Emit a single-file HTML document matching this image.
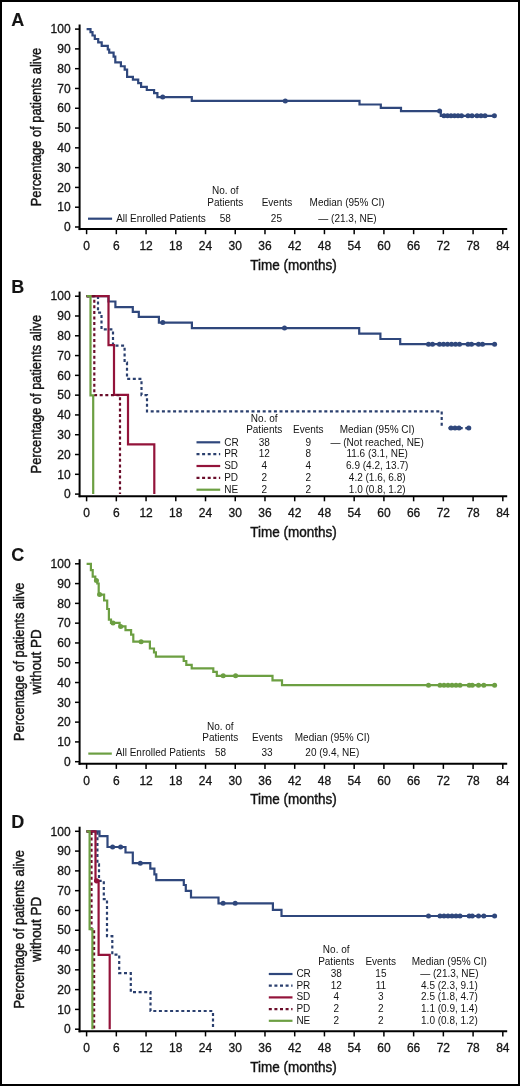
<!DOCTYPE html>
<html><head><meta charset="utf-8"><title>Kaplan-Meier curves</title>
<style>
html,body{margin:0;padding:0;background:#fff;}
body{width:520px;height:1086px;overflow:hidden;}
.frame{position:absolute;left:0;top:0;width:516px;height:1082px;border:2px solid #000;background:#fff;}
svg{position:absolute;left:0;top:0;will-change:transform;}
svg text{font-family:"Liberation Sans", sans-serif;fill:#141414;stroke:#141414;}
.t{stroke-width:0.45px;} .k{stroke-width:0.3px;} .l{stroke-width:0;} .b{stroke-width:0.1px;}
</style></head>
<body>
<div class="frame"></div>
<svg width="520" height="1086" viewBox="0 0 520 1086">
<line x1="79.6" y1="24.50" x2="79.6" y2="230.10" stroke="#000" stroke-width="2"/>
<line x1="78.6" y1="229.10" x2="507.2" y2="229.10" stroke="#000" stroke-width="2"/>
<line x1="75" y1="227.00" x2="79.6" y2="227.00" stroke="#000" stroke-width="1.5"/>
<text class="k" x="70.60" y="231.20" font-size="12" text-anchor="end" >0</text>
<line x1="75" y1="207.21" x2="79.6" y2="207.21" stroke="#000" stroke-width="1.5"/>
<text class="k" x="70.60" y="211.41" font-size="12" text-anchor="end" >10</text>
<line x1="75" y1="187.42" x2="79.6" y2="187.42" stroke="#000" stroke-width="1.5"/>
<text class="k" x="70.60" y="191.62" font-size="12" text-anchor="end" >20</text>
<line x1="75" y1="167.63" x2="79.6" y2="167.63" stroke="#000" stroke-width="1.5"/>
<text class="k" x="70.60" y="171.83" font-size="12" text-anchor="end" >30</text>
<line x1="75" y1="147.84" x2="79.6" y2="147.84" stroke="#000" stroke-width="1.5"/>
<text class="k" x="70.60" y="152.04" font-size="12" text-anchor="end" >40</text>
<line x1="75" y1="128.05" x2="79.6" y2="128.05" stroke="#000" stroke-width="1.5"/>
<text class="k" x="70.60" y="132.25" font-size="12" text-anchor="end" >50</text>
<line x1="75" y1="108.26" x2="79.6" y2="108.26" stroke="#000" stroke-width="1.5"/>
<text class="k" x="70.60" y="112.46" font-size="12" text-anchor="end" >60</text>
<line x1="75" y1="88.47" x2="79.6" y2="88.47" stroke="#000" stroke-width="1.5"/>
<text class="k" x="70.60" y="92.67" font-size="12" text-anchor="end" >70</text>
<line x1="75" y1="68.68" x2="79.6" y2="68.68" stroke="#000" stroke-width="1.5"/>
<text class="k" x="70.60" y="72.88" font-size="12" text-anchor="end" >80</text>
<line x1="75" y1="48.89" x2="79.6" y2="48.89" stroke="#000" stroke-width="1.5"/>
<text class="k" x="70.60" y="53.09" font-size="12" text-anchor="end" >90</text>
<line x1="75" y1="29.10" x2="79.6" y2="29.10" stroke="#000" stroke-width="1.5"/>
<text class="k" x="70.60" y="33.30" font-size="12" text-anchor="end" >100</text>
<line x1="86.60" y1="229.10" x2="86.60" y2="234.20" stroke="#000" stroke-width="1.5"/>
<text class="k" x="86.60" y="249.80" font-size="12" text-anchor="middle" >0</text>
<line x1="116.33" y1="229.10" x2="116.33" y2="234.20" stroke="#000" stroke-width="1.5"/>
<text class="k" x="116.33" y="249.80" font-size="12" text-anchor="middle" >6</text>
<line x1="146.06" y1="229.10" x2="146.06" y2="234.20" stroke="#000" stroke-width="1.5"/>
<text class="k" x="146.06" y="249.80" font-size="12" text-anchor="middle" >12</text>
<line x1="175.79" y1="229.10" x2="175.79" y2="234.20" stroke="#000" stroke-width="1.5"/>
<text class="k" x="175.79" y="249.80" font-size="12" text-anchor="middle" >18</text>
<line x1="205.52" y1="229.10" x2="205.52" y2="234.20" stroke="#000" stroke-width="1.5"/>
<text class="k" x="205.52" y="249.80" font-size="12" text-anchor="middle" >24</text>
<line x1="235.25" y1="229.10" x2="235.25" y2="234.20" stroke="#000" stroke-width="1.5"/>
<text class="k" x="235.25" y="249.80" font-size="12" text-anchor="middle" >30</text>
<line x1="264.98" y1="229.10" x2="264.98" y2="234.20" stroke="#000" stroke-width="1.5"/>
<text class="k" x="264.98" y="249.80" font-size="12" text-anchor="middle" >36</text>
<line x1="294.71" y1="229.10" x2="294.71" y2="234.20" stroke="#000" stroke-width="1.5"/>
<text class="k" x="294.71" y="249.80" font-size="12" text-anchor="middle" >42</text>
<line x1="324.44" y1="229.10" x2="324.44" y2="234.20" stroke="#000" stroke-width="1.5"/>
<text class="k" x="324.44" y="249.80" font-size="12" text-anchor="middle" >48</text>
<line x1="354.17" y1="229.10" x2="354.17" y2="234.20" stroke="#000" stroke-width="1.5"/>
<text class="k" x="354.17" y="249.80" font-size="12" text-anchor="middle" >54</text>
<line x1="383.90" y1="229.10" x2="383.90" y2="234.20" stroke="#000" stroke-width="1.5"/>
<text class="k" x="383.90" y="249.80" font-size="12" text-anchor="middle" >60</text>
<line x1="413.63" y1="229.10" x2="413.63" y2="234.20" stroke="#000" stroke-width="1.5"/>
<text class="k" x="413.63" y="249.80" font-size="12" text-anchor="middle" >66</text>
<line x1="443.36" y1="229.10" x2="443.36" y2="234.20" stroke="#000" stroke-width="1.5"/>
<text class="k" x="443.36" y="249.80" font-size="12" text-anchor="middle" >72</text>
<line x1="473.09" y1="229.10" x2="473.09" y2="234.20" stroke="#000" stroke-width="1.5"/>
<text class="k" x="473.09" y="249.80" font-size="12" text-anchor="middle" >78</text>
<line x1="502.82" y1="229.10" x2="502.82" y2="234.20" stroke="#000" stroke-width="1.5"/>
<text class="k" x="502.82" y="249.80" font-size="12" text-anchor="middle" >84</text>
<text class="t" x="293.50" y="269.60" font-size="15" text-anchor="middle" textLength="86.5" lengthAdjust="spacingAndGlyphs" >Time (months)</text>
<text class="b" x="11.20" y="26.20" font-size="18" text-anchor="start" font-weight="bold" >A</text>
<text class="t" transform="translate(41.1,127.05) rotate(-90)" font-size="15" text-anchor="middle" textLength="158.5" lengthAdjust="spacingAndGlyphs">Percentage of patients alive</text>
<path d="M86.6,29.1 H90.5 V32.1 H92.5 V35.5 H94.8 V39 H98.2 V42.3 H101.7 V45.8 H107.8 V49.5 H109.2 V52.7 H113.6 V56.7 H115.3 V62.4 H120.9 V66.25 H124.7 V69.6 H127.1 V76.8 H132.9 V79.7 H138.2 V83.1 H141.1 V86.9 H146.8 V90 H154.1 V93.2 H157.4 V97.1 H191.8 V100.9 H359.5 V104.5 H380.8 V107.9 H401 V111.2 H440.8 V115.8 H494.4" fill="none" stroke="#2f477c" stroke-width="2.2"/>
<circle cx="162.7" cy="97.1" r="2.5" fill="#2f477c"/>
<circle cx="285.3" cy="100.9" r="2.5" fill="#2f477c"/>
<circle cx="439.6" cy="111.0" r="2.5" fill="#2f477c"/>
<circle cx="444" cy="115.8" r="2.5" fill="#2f477c"/>
<circle cx="447.5" cy="115.8" r="2.5" fill="#2f477c"/>
<circle cx="451" cy="115.8" r="2.5" fill="#2f477c"/>
<circle cx="454.5" cy="115.8" r="2.5" fill="#2f477c"/>
<circle cx="458" cy="115.8" r="2.5" fill="#2f477c"/>
<circle cx="461.5" cy="115.8" r="2.5" fill="#2f477c"/>
<circle cx="468" cy="115.8" r="2.5" fill="#2f477c"/>
<circle cx="472" cy="115.8" r="2.5" fill="#2f477c"/>
<circle cx="477" cy="115.8" r="2.5" fill="#2f477c"/>
<circle cx="481" cy="115.8" r="2.5" fill="#2f477c"/>
<circle cx="485" cy="115.8" r="2.5" fill="#2f477c"/>
<circle cx="494.4" cy="115.8" r="2.5" fill="#2f477c"/>
<text class="l" x="225.30" y="194.30" font-size="10" text-anchor="middle" >No. of</text>
<text class="l" x="225.30" y="206.10" font-size="10" text-anchor="middle" >Patients</text>
<text class="l" x="277.00" y="206.10" font-size="10" text-anchor="middle" >Events</text>
<text class="l" x="347.10" y="206.10" font-size="10" text-anchor="middle" >Median (95% CI)</text>
<line x1="88.0" y1="218.7" x2="112.1" y2="218.7" stroke="#2f477c" stroke-width="2.2"/>
<text class="l" x="116.20" y="221.80" font-size="10" text-anchor="start" >All Enrolled Patients</text>
<text class="l" x="225.30" y="221.80" font-size="10" text-anchor="middle" >58</text>
<text class="l" x="276.40" y="221.80" font-size="10" text-anchor="middle" >25</text>
<text class="l" x="347.50" y="221.80" font-size="10" text-anchor="middle" >— (21.3, NE)</text>
<line x1="79.6" y1="291.60" x2="79.6" y2="497.20" stroke="#000" stroke-width="2"/>
<line x1="78.6" y1="496.20" x2="507.2" y2="496.20" stroke="#000" stroke-width="2"/>
<line x1="75" y1="494.10" x2="79.6" y2="494.10" stroke="#000" stroke-width="1.5"/>
<text class="k" x="70.60" y="498.30" font-size="12" text-anchor="end" >0</text>
<line x1="75" y1="474.31" x2="79.6" y2="474.31" stroke="#000" stroke-width="1.5"/>
<text class="k" x="70.60" y="478.51" font-size="12" text-anchor="end" >10</text>
<line x1="75" y1="454.52" x2="79.6" y2="454.52" stroke="#000" stroke-width="1.5"/>
<text class="k" x="70.60" y="458.72" font-size="12" text-anchor="end" >20</text>
<line x1="75" y1="434.73" x2="79.6" y2="434.73" stroke="#000" stroke-width="1.5"/>
<text class="k" x="70.60" y="438.93" font-size="12" text-anchor="end" >30</text>
<line x1="75" y1="414.94" x2="79.6" y2="414.94" stroke="#000" stroke-width="1.5"/>
<text class="k" x="70.60" y="419.14" font-size="12" text-anchor="end" >40</text>
<line x1="75" y1="395.15" x2="79.6" y2="395.15" stroke="#000" stroke-width="1.5"/>
<text class="k" x="70.60" y="399.35" font-size="12" text-anchor="end" >50</text>
<line x1="75" y1="375.36" x2="79.6" y2="375.36" stroke="#000" stroke-width="1.5"/>
<text class="k" x="70.60" y="379.56" font-size="12" text-anchor="end" >60</text>
<line x1="75" y1="355.57" x2="79.6" y2="355.57" stroke="#000" stroke-width="1.5"/>
<text class="k" x="70.60" y="359.77" font-size="12" text-anchor="end" >70</text>
<line x1="75" y1="335.78" x2="79.6" y2="335.78" stroke="#000" stroke-width="1.5"/>
<text class="k" x="70.60" y="339.98" font-size="12" text-anchor="end" >80</text>
<line x1="75" y1="315.99" x2="79.6" y2="315.99" stroke="#000" stroke-width="1.5"/>
<text class="k" x="70.60" y="320.19" font-size="12" text-anchor="end" >90</text>
<line x1="75" y1="296.20" x2="79.6" y2="296.20" stroke="#000" stroke-width="1.5"/>
<text class="k" x="70.60" y="300.40" font-size="12" text-anchor="end" >100</text>
<line x1="86.60" y1="496.20" x2="86.60" y2="501.30" stroke="#000" stroke-width="1.5"/>
<text class="k" x="86.60" y="516.90" font-size="12" text-anchor="middle" >0</text>
<line x1="116.33" y1="496.20" x2="116.33" y2="501.30" stroke="#000" stroke-width="1.5"/>
<text class="k" x="116.33" y="516.90" font-size="12" text-anchor="middle" >6</text>
<line x1="146.06" y1="496.20" x2="146.06" y2="501.30" stroke="#000" stroke-width="1.5"/>
<text class="k" x="146.06" y="516.90" font-size="12" text-anchor="middle" >12</text>
<line x1="175.79" y1="496.20" x2="175.79" y2="501.30" stroke="#000" stroke-width="1.5"/>
<text class="k" x="175.79" y="516.90" font-size="12" text-anchor="middle" >18</text>
<line x1="205.52" y1="496.20" x2="205.52" y2="501.30" stroke="#000" stroke-width="1.5"/>
<text class="k" x="205.52" y="516.90" font-size="12" text-anchor="middle" >24</text>
<line x1="235.25" y1="496.20" x2="235.25" y2="501.30" stroke="#000" stroke-width="1.5"/>
<text class="k" x="235.25" y="516.90" font-size="12" text-anchor="middle" >30</text>
<line x1="264.98" y1="496.20" x2="264.98" y2="501.30" stroke="#000" stroke-width="1.5"/>
<text class="k" x="264.98" y="516.90" font-size="12" text-anchor="middle" >36</text>
<line x1="294.71" y1="496.20" x2="294.71" y2="501.30" stroke="#000" stroke-width="1.5"/>
<text class="k" x="294.71" y="516.90" font-size="12" text-anchor="middle" >42</text>
<line x1="324.44" y1="496.20" x2="324.44" y2="501.30" stroke="#000" stroke-width="1.5"/>
<text class="k" x="324.44" y="516.90" font-size="12" text-anchor="middle" >48</text>
<line x1="354.17" y1="496.20" x2="354.17" y2="501.30" stroke="#000" stroke-width="1.5"/>
<text class="k" x="354.17" y="516.90" font-size="12" text-anchor="middle" >54</text>
<line x1="383.90" y1="496.20" x2="383.90" y2="501.30" stroke="#000" stroke-width="1.5"/>
<text class="k" x="383.90" y="516.90" font-size="12" text-anchor="middle" >60</text>
<line x1="413.63" y1="496.20" x2="413.63" y2="501.30" stroke="#000" stroke-width="1.5"/>
<text class="k" x="413.63" y="516.90" font-size="12" text-anchor="middle" >66</text>
<line x1="443.36" y1="496.20" x2="443.36" y2="501.30" stroke="#000" stroke-width="1.5"/>
<text class="k" x="443.36" y="516.90" font-size="12" text-anchor="middle" >72</text>
<line x1="473.09" y1="496.20" x2="473.09" y2="501.30" stroke="#000" stroke-width="1.5"/>
<text class="k" x="473.09" y="516.90" font-size="12" text-anchor="middle" >78</text>
<line x1="502.82" y1="496.20" x2="502.82" y2="501.30" stroke="#000" stroke-width="1.5"/>
<text class="k" x="502.82" y="516.90" font-size="12" text-anchor="middle" >84</text>
<text class="t" x="293.50" y="536.70" font-size="15" text-anchor="middle" textLength="86.5" lengthAdjust="spacingAndGlyphs" >Time (months)</text>
<text class="b" x="11.20" y="293.20" font-size="18" text-anchor="start" font-weight="bold" >B</text>
<text class="t" transform="translate(41.1,394.15) rotate(-90)" font-size="15" text-anchor="middle" textLength="158.5" lengthAdjust="spacingAndGlyphs">Percentage of patients alive</text>
<path d="M86.6,296.2 H108.5 V301.5 H115.4 V307.1 H132.8 V311.8 H138.8 V316.8 H158.9 V322.6 H191.9 V328.1 H359.2 V333.7 H380.4 V339 H400.2 V344.2 H494.6" fill="none" stroke="#2f477c" stroke-width="2.2"/>
<circle cx="162.8" cy="322.6" r="2.5" fill="#2f477c"/>
<circle cx="284.5" cy="328.1" r="2.5" fill="#2f477c"/>
<circle cx="428.5" cy="344.2" r="2.5" fill="#2f477c"/>
<circle cx="432.5" cy="344.2" r="2.5" fill="#2f477c"/>
<circle cx="439.5" cy="344.2" r="2.5" fill="#2f477c"/>
<circle cx="443.5" cy="344.2" r="2.5" fill="#2f477c"/>
<circle cx="447.5" cy="344.2" r="2.5" fill="#2f477c"/>
<circle cx="451.5" cy="344.2" r="2.5" fill="#2f477c"/>
<circle cx="455.5" cy="344.2" r="2.5" fill="#2f477c"/>
<circle cx="459.5" cy="344.2" r="2.5" fill="#2f477c"/>
<circle cx="468" cy="344.2" r="2.5" fill="#2f477c"/>
<circle cx="471.5" cy="344.2" r="2.5" fill="#2f477c"/>
<circle cx="478.5" cy="344.2" r="2.5" fill="#2f477c"/>
<circle cx="482.5" cy="344.2" r="2.5" fill="#2f477c"/>
<circle cx="494.6" cy="344.2" r="2.5" fill="#2f477c"/>
<path d="M86.6,296.2 H98 V312.7 H101.5 V329.4 H113 V345.7 H124.6 V362.5 H127 V378.8 H141.5 V395.1 H147 V411.3 H441.7 V428.1" fill="none" stroke="#2a3f6e" stroke-width="2.2" stroke-dasharray="3 2.6"/>
<path d="M448.5,428.1 H468.8" fill="none" stroke="#2a3f6e" stroke-width="2.2" stroke-dasharray="3 2.6"/>
<circle cx="451" cy="428.1" r="2.5" fill="#2f477c"/>
<circle cx="455" cy="428.1" r="2.5" fill="#2f477c"/>
<circle cx="459" cy="428.1" r="2.5" fill="#2f477c"/>
<circle cx="468.8" cy="428.1" r="2.5" fill="#2f477c"/>
<path d="M86.6,296.2 H108.5 V345.2 H114 V394.8 H128 V444.4 H154.3 V494.1" fill="none" stroke="#93133a" stroke-width="2.2"/>
<path d="M86.6,296.2 H94.3 V395.1 H120 V494.1" fill="none" stroke="#6a0d2a" stroke-width="2.2" stroke-dasharray="3 2.6"/>
<path d="M86.6,296.2 H90.5 V395.3 H93.2 V494.1" fill="none" stroke="#6c9f42" stroke-width="2.2"/>
<text class="l" x="264.20" y="421.50" font-size="10" text-anchor="middle" >No. of</text>
<text class="l" x="264.20" y="433.10" font-size="10" text-anchor="middle" >Patients</text>
<text class="l" x="308.30" y="433.10" font-size="10" text-anchor="middle" >Events</text>
<text class="l" x="377.20" y="433.10" font-size="10" text-anchor="middle" >Median (95% CI)</text>
<line x1="196.5" y1="442.3" x2="220.2" y2="442.3" stroke="#2f477c" stroke-width="2.2"/>
<text class="l" x="224.20" y="445.60" font-size="10" text-anchor="start" >CR</text>
<text class="l" x="264.20" y="445.60" font-size="10" text-anchor="middle" >38</text>
<text class="l" x="308.30" y="445.60" font-size="10" text-anchor="middle" >9</text>
<text class="l" x="377.20" y="445.60" font-size="10" text-anchor="middle" >— (Not reached, NE)</text>
<line x1="196.5" y1="454.15" x2="220.2" y2="454.15" stroke="#2a3f6e" stroke-width="2.2" stroke-dasharray="3 2.6"/>
<text class="l" x="224.20" y="457.45" font-size="10" text-anchor="start" >PR</text>
<text class="l" x="264.20" y="457.45" font-size="10" text-anchor="middle" >12</text>
<text class="l" x="308.30" y="457.45" font-size="10" text-anchor="middle" >8</text>
<text class="l" x="377.20" y="457.45" font-size="10" text-anchor="middle" >11.6 (3.1, NE)</text>
<line x1="196.5" y1="466.0" x2="220.2" y2="466.0" stroke="#93133a" stroke-width="2.2"/>
<text class="l" x="224.20" y="469.30" font-size="10" text-anchor="start" >SD</text>
<text class="l" x="264.20" y="469.30" font-size="10" text-anchor="middle" >4</text>
<text class="l" x="308.30" y="469.30" font-size="10" text-anchor="middle" >4</text>
<text class="l" x="377.20" y="469.30" font-size="10" text-anchor="middle" >6.9 (4.2, 13.7)</text>
<line x1="196.5" y1="477.85" x2="220.2" y2="477.85" stroke="#6a0d2a" stroke-width="2.2" stroke-dasharray="3 2.6"/>
<text class="l" x="224.20" y="481.15" font-size="10" text-anchor="start" >PD</text>
<text class="l" x="264.20" y="481.15" font-size="10" text-anchor="middle" >2</text>
<text class="l" x="308.30" y="481.15" font-size="10" text-anchor="middle" >2</text>
<text class="l" x="377.20" y="481.15" font-size="10" text-anchor="middle" >4.2 (1.6, 6.8)</text>
<line x1="196.5" y1="489.7" x2="220.2" y2="489.7" stroke="#6c9f42" stroke-width="2.2"/>
<text class="l" x="224.20" y="493.00" font-size="10" text-anchor="start" >NE</text>
<text class="l" x="264.20" y="493.00" font-size="10" text-anchor="middle" >2</text>
<text class="l" x="308.30" y="493.00" font-size="10" text-anchor="middle" >2</text>
<text class="l" x="377.20" y="493.00" font-size="10" text-anchor="middle" >1.0 (0.8, 1.2)</text>
<line x1="79.6" y1="559.20" x2="79.6" y2="764.80" stroke="#000" stroke-width="2"/>
<line x1="78.6" y1="763.80" x2="507.2" y2="763.80" stroke="#000" stroke-width="2"/>
<line x1="75" y1="761.70" x2="79.6" y2="761.70" stroke="#000" stroke-width="1.5"/>
<text class="k" x="70.60" y="765.90" font-size="12" text-anchor="end" >0</text>
<line x1="75" y1="741.91" x2="79.6" y2="741.91" stroke="#000" stroke-width="1.5"/>
<text class="k" x="70.60" y="746.11" font-size="12" text-anchor="end" >10</text>
<line x1="75" y1="722.12" x2="79.6" y2="722.12" stroke="#000" stroke-width="1.5"/>
<text class="k" x="70.60" y="726.32" font-size="12" text-anchor="end" >20</text>
<line x1="75" y1="702.33" x2="79.6" y2="702.33" stroke="#000" stroke-width="1.5"/>
<text class="k" x="70.60" y="706.53" font-size="12" text-anchor="end" >30</text>
<line x1="75" y1="682.54" x2="79.6" y2="682.54" stroke="#000" stroke-width="1.5"/>
<text class="k" x="70.60" y="686.74" font-size="12" text-anchor="end" >40</text>
<line x1="75" y1="662.75" x2="79.6" y2="662.75" stroke="#000" stroke-width="1.5"/>
<text class="k" x="70.60" y="666.95" font-size="12" text-anchor="end" >50</text>
<line x1="75" y1="642.96" x2="79.6" y2="642.96" stroke="#000" stroke-width="1.5"/>
<text class="k" x="70.60" y="647.16" font-size="12" text-anchor="end" >60</text>
<line x1="75" y1="623.17" x2="79.6" y2="623.17" stroke="#000" stroke-width="1.5"/>
<text class="k" x="70.60" y="627.37" font-size="12" text-anchor="end" >70</text>
<line x1="75" y1="603.38" x2="79.6" y2="603.38" stroke="#000" stroke-width="1.5"/>
<text class="k" x="70.60" y="607.58" font-size="12" text-anchor="end" >80</text>
<line x1="75" y1="583.59" x2="79.6" y2="583.59" stroke="#000" stroke-width="1.5"/>
<text class="k" x="70.60" y="587.79" font-size="12" text-anchor="end" >90</text>
<line x1="75" y1="563.80" x2="79.6" y2="563.80" stroke="#000" stroke-width="1.5"/>
<text class="k" x="70.60" y="568.00" font-size="12" text-anchor="end" >100</text>
<line x1="86.60" y1="763.80" x2="86.60" y2="768.90" stroke="#000" stroke-width="1.5"/>
<text class="k" x="86.60" y="784.50" font-size="12" text-anchor="middle" >0</text>
<line x1="116.33" y1="763.80" x2="116.33" y2="768.90" stroke="#000" stroke-width="1.5"/>
<text class="k" x="116.33" y="784.50" font-size="12" text-anchor="middle" >6</text>
<line x1="146.06" y1="763.80" x2="146.06" y2="768.90" stroke="#000" stroke-width="1.5"/>
<text class="k" x="146.06" y="784.50" font-size="12" text-anchor="middle" >12</text>
<line x1="175.79" y1="763.80" x2="175.79" y2="768.90" stroke="#000" stroke-width="1.5"/>
<text class="k" x="175.79" y="784.50" font-size="12" text-anchor="middle" >18</text>
<line x1="205.52" y1="763.80" x2="205.52" y2="768.90" stroke="#000" stroke-width="1.5"/>
<text class="k" x="205.52" y="784.50" font-size="12" text-anchor="middle" >24</text>
<line x1="235.25" y1="763.80" x2="235.25" y2="768.90" stroke="#000" stroke-width="1.5"/>
<text class="k" x="235.25" y="784.50" font-size="12" text-anchor="middle" >30</text>
<line x1="264.98" y1="763.80" x2="264.98" y2="768.90" stroke="#000" stroke-width="1.5"/>
<text class="k" x="264.98" y="784.50" font-size="12" text-anchor="middle" >36</text>
<line x1="294.71" y1="763.80" x2="294.71" y2="768.90" stroke="#000" stroke-width="1.5"/>
<text class="k" x="294.71" y="784.50" font-size="12" text-anchor="middle" >42</text>
<line x1="324.44" y1="763.80" x2="324.44" y2="768.90" stroke="#000" stroke-width="1.5"/>
<text class="k" x="324.44" y="784.50" font-size="12" text-anchor="middle" >48</text>
<line x1="354.17" y1="763.80" x2="354.17" y2="768.90" stroke="#000" stroke-width="1.5"/>
<text class="k" x="354.17" y="784.50" font-size="12" text-anchor="middle" >54</text>
<line x1="383.90" y1="763.80" x2="383.90" y2="768.90" stroke="#000" stroke-width="1.5"/>
<text class="k" x="383.90" y="784.50" font-size="12" text-anchor="middle" >60</text>
<line x1="413.63" y1="763.80" x2="413.63" y2="768.90" stroke="#000" stroke-width="1.5"/>
<text class="k" x="413.63" y="784.50" font-size="12" text-anchor="middle" >66</text>
<line x1="443.36" y1="763.80" x2="443.36" y2="768.90" stroke="#000" stroke-width="1.5"/>
<text class="k" x="443.36" y="784.50" font-size="12" text-anchor="middle" >72</text>
<line x1="473.09" y1="763.80" x2="473.09" y2="768.90" stroke="#000" stroke-width="1.5"/>
<text class="k" x="473.09" y="784.50" font-size="12" text-anchor="middle" >78</text>
<line x1="502.82" y1="763.80" x2="502.82" y2="768.90" stroke="#000" stroke-width="1.5"/>
<text class="k" x="502.82" y="784.50" font-size="12" text-anchor="middle" >84</text>
<text class="t" x="293.50" y="804.30" font-size="15" text-anchor="middle" textLength="86.5" lengthAdjust="spacingAndGlyphs" >Time (months)</text>
<text class="b" x="11.20" y="560.80" font-size="18" text-anchor="start" font-weight="bold" >C</text>
<text class="t" transform="translate(23.8,661.75) rotate(-90)" font-size="15" text-anchor="middle" textLength="158.5" lengthAdjust="spacingAndGlyphs">Percentage of patients alive</text>
<text class="t" transform="translate(41.1,661.75) rotate(-90)" font-size="15" text-anchor="middle" textLength="65" lengthAdjust="spacingAndGlyphs">without PD</text>
<path d="M86.6,563.8 H90.9 V570.1 H92.7 V576.7 H95.3 V580.5 H97.3 V583.5 H98.7 V594.6 H104.1 V600.5 H107.2 V609 H108.9 V619.6 H111 V622.9 H119.6 V626.4 H125.5 V630.2 H131.1 V634.6 H133.3 V641.7 H149.9 V648.5 H154 V652.3 H155.9 V656.7 H183.7 V661 H186.3 V664.8 H191.7 V668.3 H213.3 V671.8 H216.8 V675.8 H272.5 V680.4 H282 V685.2 H494.6" fill="none" stroke="#6c9f42" stroke-width="2.2"/>
<circle cx="96.4" cy="580.5" r="2.5" fill="#6c9f42"/>
<circle cx="99.6" cy="594.6" r="2.5" fill="#6c9f42"/>
<circle cx="113" cy="622.9" r="2.5" fill="#6c9f42"/>
<circle cx="120.7" cy="626.4" r="2.5" fill="#6c9f42"/>
<circle cx="141.1" cy="641.7" r="2.5" fill="#6c9f42"/>
<circle cx="223.2" cy="675.8" r="2.5" fill="#6c9f42"/>
<circle cx="235.6" cy="675.8" r="2.5" fill="#6c9f42"/>
<circle cx="428.5" cy="685.2" r="2.5" fill="#6c9f42"/>
<circle cx="440" cy="685.2" r="2.5" fill="#6c9f42"/>
<circle cx="444" cy="685.2" r="2.5" fill="#6c9f42"/>
<circle cx="448" cy="685.2" r="2.5" fill="#6c9f42"/>
<circle cx="452" cy="685.2" r="2.5" fill="#6c9f42"/>
<circle cx="456" cy="685.2" r="2.5" fill="#6c9f42"/>
<circle cx="460" cy="685.2" r="2.5" fill="#6c9f42"/>
<circle cx="469.2" cy="685.2" r="2.5" fill="#6c9f42"/>
<circle cx="472.3" cy="685.2" r="2.5" fill="#6c9f42"/>
<circle cx="478.5" cy="685.2" r="2.5" fill="#6c9f42"/>
<circle cx="483.8" cy="685.2" r="2.5" fill="#6c9f42"/>
<circle cx="494.6" cy="685.2" r="2.5" fill="#6c9f42"/>
<text class="l" x="220.30" y="729.90" font-size="10" text-anchor="middle" >No. of</text>
<text class="l" x="220.30" y="741.30" font-size="10" text-anchor="middle" >Patients</text>
<text class="l" x="267.40" y="741.30" font-size="10" text-anchor="middle" >Events</text>
<text class="l" x="332.30" y="741.30" font-size="10" text-anchor="middle" >Median (95% CI)</text>
<line x1="88.3" y1="753.6" x2="111.8" y2="753.6" stroke="#6c9f42" stroke-width="2.2"/>
<text class="l" x="115.80" y="756.20" font-size="10" text-anchor="start" >All Enrolled Patients</text>
<text class="l" x="220.50" y="756.20" font-size="10" text-anchor="middle" >58</text>
<text class="l" x="267.00" y="756.20" font-size="10" text-anchor="middle" >33</text>
<text class="l" x="332.30" y="756.20" font-size="10" text-anchor="middle" >20 (9.4, NE)</text>
<line x1="79.6" y1="826.70" x2="79.6" y2="1032.30" stroke="#000" stroke-width="2"/>
<line x1="78.6" y1="1031.30" x2="507.2" y2="1031.30" stroke="#000" stroke-width="2"/>
<line x1="75" y1="1029.20" x2="79.6" y2="1029.20" stroke="#000" stroke-width="1.5"/>
<text class="k" x="70.60" y="1033.40" font-size="12" text-anchor="end" >0</text>
<line x1="75" y1="1009.41" x2="79.6" y2="1009.41" stroke="#000" stroke-width="1.5"/>
<text class="k" x="70.60" y="1013.61" font-size="12" text-anchor="end" >10</text>
<line x1="75" y1="989.62" x2="79.6" y2="989.62" stroke="#000" stroke-width="1.5"/>
<text class="k" x="70.60" y="993.82" font-size="12" text-anchor="end" >20</text>
<line x1="75" y1="969.83" x2="79.6" y2="969.83" stroke="#000" stroke-width="1.5"/>
<text class="k" x="70.60" y="974.03" font-size="12" text-anchor="end" >30</text>
<line x1="75" y1="950.04" x2="79.6" y2="950.04" stroke="#000" stroke-width="1.5"/>
<text class="k" x="70.60" y="954.24" font-size="12" text-anchor="end" >40</text>
<line x1="75" y1="930.25" x2="79.6" y2="930.25" stroke="#000" stroke-width="1.5"/>
<text class="k" x="70.60" y="934.45" font-size="12" text-anchor="end" >50</text>
<line x1="75" y1="910.46" x2="79.6" y2="910.46" stroke="#000" stroke-width="1.5"/>
<text class="k" x="70.60" y="914.66" font-size="12" text-anchor="end" >60</text>
<line x1="75" y1="890.67" x2="79.6" y2="890.67" stroke="#000" stroke-width="1.5"/>
<text class="k" x="70.60" y="894.87" font-size="12" text-anchor="end" >70</text>
<line x1="75" y1="870.88" x2="79.6" y2="870.88" stroke="#000" stroke-width="1.5"/>
<text class="k" x="70.60" y="875.08" font-size="12" text-anchor="end" >80</text>
<line x1="75" y1="851.09" x2="79.6" y2="851.09" stroke="#000" stroke-width="1.5"/>
<text class="k" x="70.60" y="855.29" font-size="12" text-anchor="end" >90</text>
<line x1="75" y1="831.30" x2="79.6" y2="831.30" stroke="#000" stroke-width="1.5"/>
<text class="k" x="70.60" y="835.50" font-size="12" text-anchor="end" >100</text>
<line x1="86.60" y1="1031.30" x2="86.60" y2="1036.40" stroke="#000" stroke-width="1.5"/>
<text class="k" x="86.60" y="1052.00" font-size="12" text-anchor="middle" >0</text>
<line x1="116.33" y1="1031.30" x2="116.33" y2="1036.40" stroke="#000" stroke-width="1.5"/>
<text class="k" x="116.33" y="1052.00" font-size="12" text-anchor="middle" >6</text>
<line x1="146.06" y1="1031.30" x2="146.06" y2="1036.40" stroke="#000" stroke-width="1.5"/>
<text class="k" x="146.06" y="1052.00" font-size="12" text-anchor="middle" >12</text>
<line x1="175.79" y1="1031.30" x2="175.79" y2="1036.40" stroke="#000" stroke-width="1.5"/>
<text class="k" x="175.79" y="1052.00" font-size="12" text-anchor="middle" >18</text>
<line x1="205.52" y1="1031.30" x2="205.52" y2="1036.40" stroke="#000" stroke-width="1.5"/>
<text class="k" x="205.52" y="1052.00" font-size="12" text-anchor="middle" >24</text>
<line x1="235.25" y1="1031.30" x2="235.25" y2="1036.40" stroke="#000" stroke-width="1.5"/>
<text class="k" x="235.25" y="1052.00" font-size="12" text-anchor="middle" >30</text>
<line x1="264.98" y1="1031.30" x2="264.98" y2="1036.40" stroke="#000" stroke-width="1.5"/>
<text class="k" x="264.98" y="1052.00" font-size="12" text-anchor="middle" >36</text>
<line x1="294.71" y1="1031.30" x2="294.71" y2="1036.40" stroke="#000" stroke-width="1.5"/>
<text class="k" x="294.71" y="1052.00" font-size="12" text-anchor="middle" >42</text>
<line x1="324.44" y1="1031.30" x2="324.44" y2="1036.40" stroke="#000" stroke-width="1.5"/>
<text class="k" x="324.44" y="1052.00" font-size="12" text-anchor="middle" >48</text>
<line x1="354.17" y1="1031.30" x2="354.17" y2="1036.40" stroke="#000" stroke-width="1.5"/>
<text class="k" x="354.17" y="1052.00" font-size="12" text-anchor="middle" >54</text>
<line x1="383.90" y1="1031.30" x2="383.90" y2="1036.40" stroke="#000" stroke-width="1.5"/>
<text class="k" x="383.90" y="1052.00" font-size="12" text-anchor="middle" >60</text>
<line x1="413.63" y1="1031.30" x2="413.63" y2="1036.40" stroke="#000" stroke-width="1.5"/>
<text class="k" x="413.63" y="1052.00" font-size="12" text-anchor="middle" >66</text>
<line x1="443.36" y1="1031.30" x2="443.36" y2="1036.40" stroke="#000" stroke-width="1.5"/>
<text class="k" x="443.36" y="1052.00" font-size="12" text-anchor="middle" >72</text>
<line x1="473.09" y1="1031.30" x2="473.09" y2="1036.40" stroke="#000" stroke-width="1.5"/>
<text class="k" x="473.09" y="1052.00" font-size="12" text-anchor="middle" >78</text>
<line x1="502.82" y1="1031.30" x2="502.82" y2="1036.40" stroke="#000" stroke-width="1.5"/>
<text class="k" x="502.82" y="1052.00" font-size="12" text-anchor="middle" >84</text>
<text class="t" x="293.50" y="1071.80" font-size="15" text-anchor="middle" textLength="86.5" lengthAdjust="spacingAndGlyphs" >Time (months)</text>
<text class="b" x="11.20" y="828.30" font-size="18" text-anchor="start" font-weight="bold" >D</text>
<text class="t" transform="translate(23.8,929.25) rotate(-90)" font-size="15" text-anchor="middle" textLength="158.5" lengthAdjust="spacingAndGlyphs">Percentage of patients alive</text>
<text class="t" transform="translate(41.1,929.25) rotate(-90)" font-size="15" text-anchor="middle" textLength="65" lengthAdjust="spacingAndGlyphs">without PD</text>
<path d="M86.6,831.3 H99.5 V836.2 H107.5 V847 H125.5 V852.5 H132.8 V863.2 H150.3 V868.7 H154.4 V874.4 H156.3 V880.2 H183.8 V885 H185.8 V890.8 H191 V897.5 H218.5 V903.3 H272.9 V909.8 H281.5 V916 H494.6" fill="none" stroke="#2f477c" stroke-width="2.2"/>
<circle cx="112.6" cy="847" r="2.5" fill="#2f477c"/>
<circle cx="120.6" cy="847" r="2.5" fill="#2f477c"/>
<circle cx="140.3" cy="863.2" r="2.5" fill="#2f477c"/>
<circle cx="223.1" cy="903.3" r="2.5" fill="#2f477c"/>
<circle cx="235.2" cy="903.3" r="2.5" fill="#2f477c"/>
<circle cx="428.5" cy="916" r="2.5" fill="#2f477c"/>
<circle cx="440" cy="916" r="2.5" fill="#2f477c"/>
<circle cx="444" cy="916" r="2.5" fill="#2f477c"/>
<circle cx="448" cy="916" r="2.5" fill="#2f477c"/>
<circle cx="452" cy="916" r="2.5" fill="#2f477c"/>
<circle cx="456" cy="916" r="2.5" fill="#2f477c"/>
<circle cx="460" cy="916" r="2.5" fill="#2f477c"/>
<circle cx="469.2" cy="916" r="2.5" fill="#2f477c"/>
<circle cx="472.3" cy="916" r="2.5" fill="#2f477c"/>
<circle cx="478.5" cy="916" r="2.5" fill="#2f477c"/>
<circle cx="483.8" cy="916" r="2.5" fill="#2f477c"/>
<circle cx="494.6" cy="916" r="2.5" fill="#2f477c"/>
<path d="M86.6,831.3 H97.4 V864.4 H99 V880.8 H103.8 V899.2 H107 V936.2 H112.3 V954.6 H119.2 V973.1 H130.8 V992.1 H150.5 V1011 H213 V1029.2" fill="none" stroke="#2a3f6e" stroke-width="2.2" stroke-dasharray="3 2.6"/>
<path d="M86.6,831.3 H95.5 V880.8 H98.6 V954.8 H109.7 V1029.2" fill="none" stroke="#93133a" stroke-width="2.2"/>
<circle cx="96.6" cy="880.8" r="2.6" fill="#93133a"/>
<path d="M86.6,831.3 H91.5 V930.2 H94.1 V1029.2" fill="none" stroke="#6a0d2a" stroke-width="2.2" stroke-dasharray="3 2.6"/>
<path d="M86.6,831.3 H89.6 V929.2 H92.4 V1029.2" fill="none" stroke="#6c9f42" stroke-width="2.2"/>
<text class="l" x="336.20" y="953.10" font-size="10" text-anchor="middle" >No. of</text>
<text class="l" x="336.20" y="964.80" font-size="10" text-anchor="middle" >Patients</text>
<text class="l" x="380.70" y="964.80" font-size="10" text-anchor="middle" >Events</text>
<text class="l" x="449.30" y="964.80" font-size="10" text-anchor="middle" >Median (95% CI)</text>
<line x1="268.8" y1="974.0" x2="292.5" y2="974.0" stroke="#2f477c" stroke-width="2.2"/>
<text class="l" x="296.40" y="977.00" font-size="10" text-anchor="start" >CR</text>
<text class="l" x="336.20" y="977.00" font-size="10" text-anchor="middle" >38</text>
<text class="l" x="380.90" y="977.00" font-size="10" text-anchor="middle" >15</text>
<text class="l" x="449.40" y="977.00" font-size="10" text-anchor="middle" >— (21.3, NE)</text>
<line x1="268.8" y1="985.7" x2="292.5" y2="985.7" stroke="#2a3f6e" stroke-width="2.2" stroke-dasharray="3 2.6"/>
<text class="l" x="296.40" y="988.70" font-size="10" text-anchor="start" >PR</text>
<text class="l" x="336.20" y="988.70" font-size="10" text-anchor="middle" >12</text>
<text class="l" x="380.90" y="988.70" font-size="10" text-anchor="middle" >11</text>
<text class="l" x="449.40" y="988.70" font-size="10" text-anchor="middle" >4.5 (2.3, 9.1)</text>
<line x1="268.8" y1="997.4" x2="292.5" y2="997.4" stroke="#93133a" stroke-width="2.2"/>
<text class="l" x="296.40" y="1000.40" font-size="10" text-anchor="start" >SD</text>
<text class="l" x="336.20" y="1000.40" font-size="10" text-anchor="middle" >4</text>
<text class="l" x="380.90" y="1000.40" font-size="10" text-anchor="middle" >3</text>
<text class="l" x="449.40" y="1000.40" font-size="10" text-anchor="middle" >2.5 (1.8, 4.7)</text>
<line x1="268.8" y1="1009.1" x2="292.5" y2="1009.1" stroke="#6a0d2a" stroke-width="2.2" stroke-dasharray="3 2.6"/>
<text class="l" x="296.40" y="1012.10" font-size="10" text-anchor="start" >PD</text>
<text class="l" x="336.20" y="1012.10" font-size="10" text-anchor="middle" >2</text>
<text class="l" x="380.90" y="1012.10" font-size="10" text-anchor="middle" >2</text>
<text class="l" x="449.40" y="1012.10" font-size="10" text-anchor="middle" >1.1 (0.9, 1.4)</text>
<line x1="268.8" y1="1020.8" x2="292.5" y2="1020.8" stroke="#6c9f42" stroke-width="2.2"/>
<text class="l" x="296.40" y="1023.80" font-size="10" text-anchor="start" >NE</text>
<text class="l" x="336.20" y="1023.80" font-size="10" text-anchor="middle" >2</text>
<text class="l" x="380.90" y="1023.80" font-size="10" text-anchor="middle" >2</text>
<text class="l" x="449.40" y="1023.80" font-size="10" text-anchor="middle" >1.0 (0.8, 1.2)</text>
</svg>
</body></html>
